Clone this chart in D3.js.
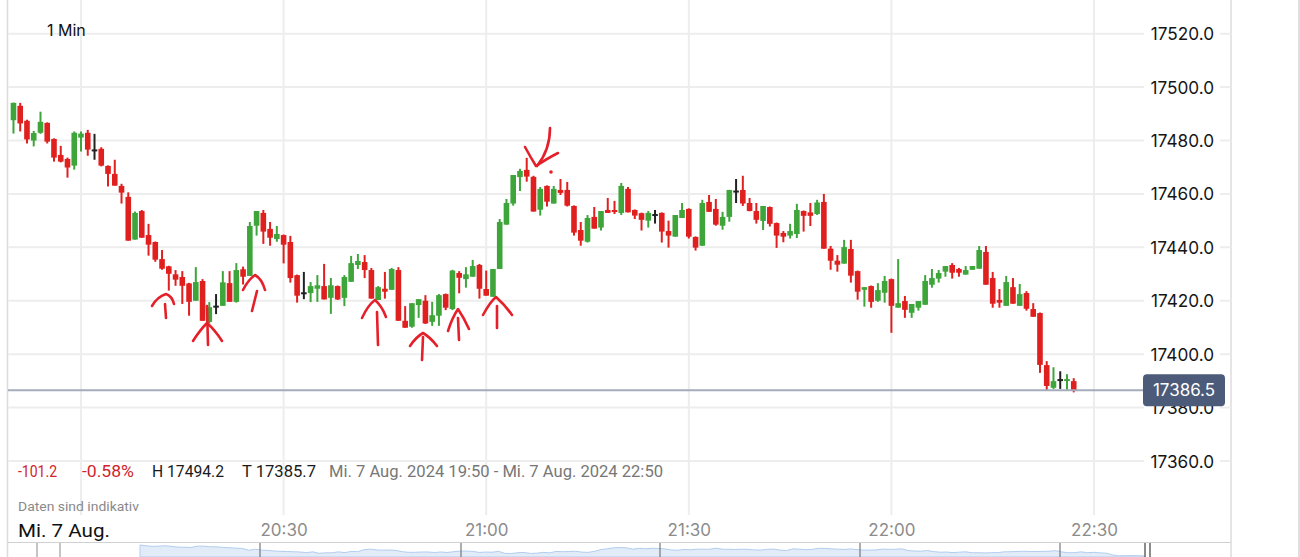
<!DOCTYPE html>
<html><head><meta charset="utf-8">
<script src="https://cdn.jsdelivr.net/npm/d3@7"></script>
<style>
html,body{margin:0;padding:0;background:#fff;overflow:hidden}
svg{display:block}
text{font-family:Inter,"Noto Sans",sans-serif}
</style>
</head><body>
<svg id="c" width="1300" height="557"></svg>
<script>
// ---------- data ----------
const startTime = "2024-08-07T19:50:00";   // first 1-minute candle
const openV = [17487.6,17493.0,17487.4,17480.0,17482.9,17486.6,17480.6,17474.6,17473.1,17470.6,
17481.1,17482.9,17476.3,17476.9,17470.5,17467.5,17463.0,17458.9,17442.9,17453.6,
17444.6,17442.0,17435.6,17432.9,17429.9,17428.9,17426.5,17420.0,17427.4,17412.1,
17417.8,17418.1,17426.6,17419.6,17431.8,17429.3,17448.1,17452.9,17446.9,17443.1,
17444.6,17442.0,17429.6,17422.8,17422.9,17424.5,17425.5,17421.1,17425.5,17421.1,
17427.1,17433.4,17434.5,17431.5,17420.3,17424.5,17424.1,17431.5,17412.5,17410.3,
17418.4,17420.0,17412.1,17414.4,17422.5,17416.9,17430.4,17428.1,17429.0,17433.4,
17424.4,17421.5,17431.9,17448.5,17456.4,17466.3,17469.0,17466.4,17454.1,17463.0,
17456.4,17461.5,17461.5,17455.5,17446.5,17442.1,17451.4,17447.4,17454.0,17453.6,
17452.9,17461.9,17454.0,17452.8,17450.0,17452.1,17452.9,17446.1,17444.0,17451.0,
17454.4,17443.9,17440.6,17457.0,17454.4,17448.1,17451.4,17460.9,17461.5,17456.6,
17453.6,17449.9,17455.1,17449.1,17445.4,17444.4,17445.0,17453.6,17453.1,17452.5,
17457.0,17439.5,17435.0,17433.9,17439.4,17431.1,17424.1,17425.5,17420.0,17423.0,
17428.1,17417.4,17419.9,17415.5,17417.4,17418.5,17426.0,17428.3,17430.9,17433.4,
17431.9,17429.8,17431.6,17432.0,17438.3,17428.5,17420.3,17418.1,17425.1,17418.1,
17422.9,17416.9,17415.4,17395.9,17387.4,17390.3,17389.6,17389.9];
const highV = [17494.2,17494.1,17487.8,17483.6,17490.8,17486.8,17480.8,17478.0,17473.6,17483.4,
17483.4,17484.0,17482.5,17477.5,17470.7,17472.8,17463.8,17460.6,17453.4,17454.0,
17448.8,17442.2,17439.0,17433.1,17431.5,17431.1,17426.7,17432.6,17428.1,17419.5,
17422.5,17431.1,17431.1,17434.1,17432.8,17449.5,17453.6,17454.0,17449.5,17448.0,
17444.8,17444.3,17429.8,17430.8,17427.0,17429.6,17433.8,17428.5,17425.7,17429.6,
17436.8,17437.5,17437.1,17432.3,17425.5,17430.8,17432.3,17432.6,17418.0,17419.1,
17420.6,17422.1,17419.6,17422.5,17422.7,17431.6,17431.1,17432.6,17435.3,17433.8,
17431.3,17431.9,17450.6,17458.1,17467.1,17469.4,17473.5,17466.8,17462.6,17463.2,
17463.0,17465.6,17464.5,17455.7,17449.5,17452.1,17455.1,17453.6,17458.5,17457.4,
17464.1,17462.6,17454.2,17453.0,17453.6,17454.0,17453.1,17450.0,17452.1,17456.6,
17454.6,17444.1,17457.8,17459.6,17458.1,17453.3,17461.5,17465.6,17466.8,17458.5,
17456.6,17455.5,17455.3,17449.3,17446.1,17448.8,17456.3,17453.8,17456.6,17457.8,
17460.0,17440.5,17437.1,17442.8,17442.8,17431.3,17425.1,17425.7,17426.6,17429.3,
17428.3,17435.6,17421.8,17418.8,17419.9,17429.6,17431.9,17431.5,17433.0,17434.1,
17432.3,17433.0,17433.0,17440.5,17440.5,17430.8,17424.4,17429.3,17428.5,17426.3,
17423.6,17419.1,17415.6,17397.4,17395.1,17393.6,17392.5,17391.0];
const lowV = [17482.6,17483.4,17478.9,17477.8,17482.5,17478.9,17472.1,17471.8,17466.1,17469.1,
17475.9,17474.3,17472.8,17470.3,17462.8,17463.1,17456.4,17442.5,17442.9,17443.6,
17436.9,17434.6,17431.6,17423.8,17425.6,17418.8,17414.4,17420.0,17412.5,17411.5,
17415.0,17418.1,17419.6,17419.3,17426.1,17429.3,17444.4,17441.3,17440.6,17442.1,
17434.0,17426.8,17419.3,17420.6,17419.5,17419.6,17420.5,17415.1,17420.3,17418.0,
17427.1,17431.9,17428.5,17420.8,17420.3,17420.8,17424.1,17412.5,17409.9,17409.9,
17413.6,17411.3,17410.6,17410.6,17416.5,17416.5,17422.8,17424.9,17429.0,17420.8,
17421.9,17421.5,17431.9,17448.5,17455.6,17461.1,17464.6,17453.4,17451.9,17455.3,
17456.4,17459.6,17455.3,17444.4,17440.6,17441.8,17447.0,17446.3,17452.9,17452.5,
17452.1,17453.1,17450.6,17446.3,17447.4,17448.9,17441.8,17439.9,17444.0,17451.0,
17443.3,17438.8,17440.6,17453.3,17448.1,17446.6,17449.6,17456.6,17455.5,17453.5,
17448.9,17446.5,17447.8,17439.8,17441.9,17443.3,17443.5,17445.9,17448.0,17452.1,
17439.5,17431.6,17430.9,17433.9,17426.8,17420.4,17417.8,17417.4,17419.6,17419.3,
17408.0,17417.4,17413.6,17413.6,17416.3,17418.5,17424.9,17426.8,17429.0,17428.3,
17429.0,17429.8,17431.6,17432.0,17426.0,17417.4,17417.4,17418.1,17418.9,17418.1,
17416.3,17414.0,17393.0,17386.3,17387.0,17387.0,17386.6,17385.7];
const closeV = [17494.1,17486.4,17480.4,17482.8,17487.0,17479.6,17473.6,17472.1,17469.9,17482.9,
17482.6,17476.6,17476.3,17470.6,17467.5,17463.1,17460.5,17442.5,17452.9,17443.6,
17441.0,17435.4,17432.0,17430.1,17427.9,17425.6,17419.6,17427.0,17412.5,17417.6,
17417.8,17426.9,17419.6,17431.5,17429.0,17448.0,17453.6,17445.9,17443.6,17445.0,
17441.0,17428.5,17421.9,17422.8,17425.5,17425.8,17420.5,17425.8,17420.5,17428.9,
17434.1,17434.9,17431.5,17420.8,17425.1,17423.4,17431.9,17412.5,17409.9,17419.1,
17420.6,17411.5,17414.6,17422.1,17417.4,17431.3,17428.6,17429.9,17433.0,17424.5,
17421.9,17431.9,17449.5,17456.6,17467.1,17468.6,17466.5,17453.4,17461.9,17457.1,
17461.9,17460.4,17455.6,17445.5,17442.5,17451.0,17447.0,17453.6,17452.9,17452.9,
17463.0,17453.1,17451.9,17450.3,17452.9,17452.1,17445.9,17444.4,17452.1,17454.0,
17444.0,17439.9,17456.6,17453.3,17448.5,17451.4,17461.5,17460.9,17456.4,17453.6,
17450.3,17455.5,17448.8,17444.4,17444.0,17446.1,17454.0,17451.8,17451.8,17456.8,
17439.5,17435.0,17433.5,17440.1,17429.4,17423.4,17425.1,17419.6,17424.0,17427.4,
17418.1,17419.1,17416.6,17418.8,17419.9,17427.4,17428.5,17430.4,17433.0,17430.5,
17430.5,17431.5,17433.0,17439.0,17426.0,17418.9,17419.3,17427.0,17418.9,17422.5,
17417.0,17414.0,17396.0,17388.1,17389.9,17390.3,17390.3,17386.5];
const priceTicks = [17360,17380,17400,17420,17440,17460,17480,17500,17520];
const gridTimes = ["2024-08-07T20:00:00","2024-08-07T20:30:00","2024-08-07T21:00:00","2024-08-07T21:30:00","2024-08-07T22:00:00","2024-08-07T22:30:00"];
const labelTimes = ["2024-08-07T20:30:00","2024-08-07T21:00:00","2024-08-07T21:30:00","2024-08-07T22:00:00","2024-08-07T22:30:00"];
const lastPrice = 17386.5;
const legendItems = ["-101.2","-0.58%","H 17494.2","T 17385.7","Mi. 7 Aug. 2024 19:50 - Mi. 7 Aug. 2024 22:50"];
const intervalLabel = "1 Min";
const dateLabel = "Mi. 7 Aug.";
const noteLabel = "Daten sind indikativ";

// ---------- setup ----------
const svg = d3.select("#c");
const UP = "#3ea53b", DOWN = "#e01f1f", DOJI = "#222222", GRID = "#ededed";
const t0 = new Date(startTime);
const candles = openV.map((o,i)=>({t:d3.timeMinute.offset(t0,i),o,h:highV[i],l:lowV[i],c:closeV[i]}));

const x = d3.scaleTime().domain([new Date("2024-08-07T20:00:00"), new Date("2024-08-07T22:30:00")]).range([81, 1094]);
const y = d3.scaleLinear().domain([17360, 17520]).range([461, 33.7]);

svg.append("defs").append("clipPath").attr("id","plot")
  .append("rect").attr("x",8).attr("y",0).attr("width",1223).attr("height",515);

// frame lines
svg.append("line").attr("x1",7.5).attr("x2",7.5).attr("y1",0).attr("y2",557).attr("stroke","#dcdcdc").attr("stroke-width",1.5);
svg.append("line").attr("x1",1231).attr("x2",1231).attr("y1",0).attr("y2",557).attr("stroke","#dcdcdc").attr("stroke-width",1.5);
svg.append("line").attr("x1",1299).attr("x2",1299).attr("y1",0).attr("y2",557).attr("stroke","#d4d4d4").attr("stroke-width",1.5);

// grid
svg.append("g").selectAll("line").data(priceTicks).join("line")
  .attr("x1",8).attr("x2",1231).attr("y1",d=>y(d)).attr("y2",d=>y(d))
  .attr("stroke",GRID).attr("stroke-width",2);
svg.append("g").selectAll("line").data(gridTimes.map(s=>new Date(s))).join("line")
  .attr("x1",d=>x(d)).attr("x2",d=>x(d)).attr("y1",0).attr("y2",515)
  .attr("stroke",GRID).attr("stroke-width",2);

// candles
const bw = 5.6;
const cg = svg.append("g").attr("clip-path","url(#plot)");
const col = d => d.c > d.o ? UP : (d.c < d.o ? DOWN : DOJI);
cg.selectAll("line.w").data(candles).join("line").attr("class","w")
  .attr("x1",d=>x(d.t)).attr("x2",d=>x(d.t)).attr("y1",d=>y(d.h)).attr("y2",d=>y(d.l))
  .attr("stroke",col).attr("stroke-width",2);
cg.selectAll("rect.b").data(candles).join("rect").attr("class","b")
  .attr("x",d=>x(d.t)-bw/2).attr("width",bw)
  .attr("y",d=>Math.min(y(d.o),y(d.c)) - (Math.abs(y(d.o)-y(d.c))<2 ? 1 : 0))
  .attr("height",d=>Math.max(2,Math.abs(y(d.o)-y(d.c))))
  .attr("fill",col);

// last price line
svg.append("line").attr("x1",8).attr("x2",1143).attr("y1",y(lastPrice)).attr("y2",y(lastPrice))
  .attr("stroke","#a3adbb").attr("stroke-width",2);

// y axis
const ya = svg.append("g").attr("transform","translate(1214,0)")
  .call(d3.axisRight(y).tickValues(priceTicks).tickFormat(d3.format(".1f")).tickSize(0).tickPadding(0));
ya.select(".domain").remove();
ya.selectAll(".tick").insert("rect","text").attr("x",-70).attr("y",-10).attr("width",76).attr("height",20).attr("fill","#fff");
ya.selectAll("text").attr("text-anchor","end").attr("fill","#151515")
  .style("font-family","Inter, sans-serif").style("font-size","17.2px").attr("dy","0.35em").attr("x",0);

// last price box
svg.append("rect").attr("x",1143).attr("y",y(lastPrice)-16).attr("width",82).attr("height",32).attr("rx",4).attr("fill","#4b5b79");
svg.append("text").attr("x",1184).attr("y",y(lastPrice)).attr("dy","0.36em").attr("text-anchor","middle")
  .attr("fill","#fff").style("font-size","17px").text(d3.format(".1f")(lastPrice));

// x axis
const xa = svg.append("g").attr("transform","translate(0,524)")
  .call(d3.axisBottom(x).tickValues(labelTimes.map(s=>new Date(s))).tickFormat(d3.timeFormat("%H:%M")).tickSize(0).tickPadding(0));
xa.select(".domain").remove();
xa.selectAll("text").attr("fill","#8c8c8c").style("font-family","Inter, sans-serif").style("font-size","17px");
svg.append("text").attr("x",18).attr("y",537).attr("fill","#111").attr("textLength",92).attr("lengthAdjust","spacingAndGlyphs")
  .style("font-family","Roboto, sans-serif").style("font-size","18px").text(dateLabel);

// interval label
svg.append("text").attr("x",47).attr("y",36).attr("fill","#111").style("font-size","16px").text(intervalLabel);

// legend
const legX = [18,82,152,242,329], legW = [39,52,72,74,334];
const legC = ["#d0242a","#d0242a","#1a1a1a","#1a1a1a","#777777"];
svg.append("g").selectAll("text").data(legendItems).join("text")
  .attr("x",(d,i)=>legX[i]).attr("y",477).attr("fill",(d,i)=>legC[i])
  .attr("textLength",(d,i)=>legW[i]).attr("lengthAdjust","spacingAndGlyphs")
  .style("font-family","Roboto, sans-serif").style("font-size","16px").text(d=>d);
svg.append("text").attr("x",18).attr("y",511).attr("fill","#8a8a8a").attr("textLength",121).attr("lengthAdjust","spacingAndGlyphs")
  .style("font-family","Roboto, sans-serif").style("font-size","12.5px").text(noteLabel);

// navigator strip
const nav = svg.append("g");
nav.append("line").attr("x1",8).attr("x2",1231).attr("y1",542.5).attr("y2",542.5).attr("stroke","#d0d0d0");
const nx = d3.scaleTime().domain(d3.extent(candles,d=>d.t)).range([140,1145]);
const ny = d3.scaleLinear().domain(d3.extent(closeV)).range([556,545]);
nav.append("path").datum(candles)
  .attr("d",d3.area().x(d=>nx(d.t)).y0(557).y1(d=>ny(d.c)))
  .attr("fill","#e2ecf8").attr("stroke","#b3cdee").attr("stroke-width",1);
[37,60].forEach(v=>nav.append("line").attr("x1",v).attr("x2",v).attr("y1",543).attr("y2",557).attr("stroke","#8a8a8a").attr("stroke-width",1));
[260,461,660,860,1060].forEach(v=>nav.append("line").attr("x1",v).attr("x2",v).attr("y1",543).attr("y2",557).attr("stroke","#777").attr("stroke-width",1.2));
[1145,1150].forEach(v=>nav.append("line").attr("x1",v).attr("x2",v).attr("y1",543).attr("y2",557).attr("stroke","#666").attr("stroke-width",1.5));

// hand-drawn red annotations
const marks = [
  "M152,306 Q157,297 166,294 Q172,296 174,304","M165,304 L166,318",
  "M193,341 Q200,330 207,323 Q215,330 222,341","M207,306 L208,345",
  "M243,290 Q248,280 255,275 Q262,279 265,290","M257,291 L252,311",
  "M362,318 Q368,305 375,300 Q382,306 386,317","M377,312 L378,345",
  "M410,346 Q416,337 423,333 Q430,337 437,346","M423,337 L422,360",
  "M448,331 Q452,318 458,309 Q464,318 469,329","M458,318 L459,340",
  "M483,315 Q490,302 496,297 Q505,305 512,315","M497,306 L497,328",
  "M550,128 Q550,150 537,166","M525,147 Q531,158 536,166 Q548,158 558,153"
];
svg.append("g").selectAll("path").data(marks).join("path").attr("d",d=>d)
  .attr("fill","none").attr("stroke","#e5202a").attr("stroke-width",2.6).attr("stroke-linecap","round").attr("stroke-linejoin","round");
svg.append("circle").attr("cx",551).attr("cy",172).attr("r",1.8).attr("fill","#e5202a");
</script>
</body></html>
